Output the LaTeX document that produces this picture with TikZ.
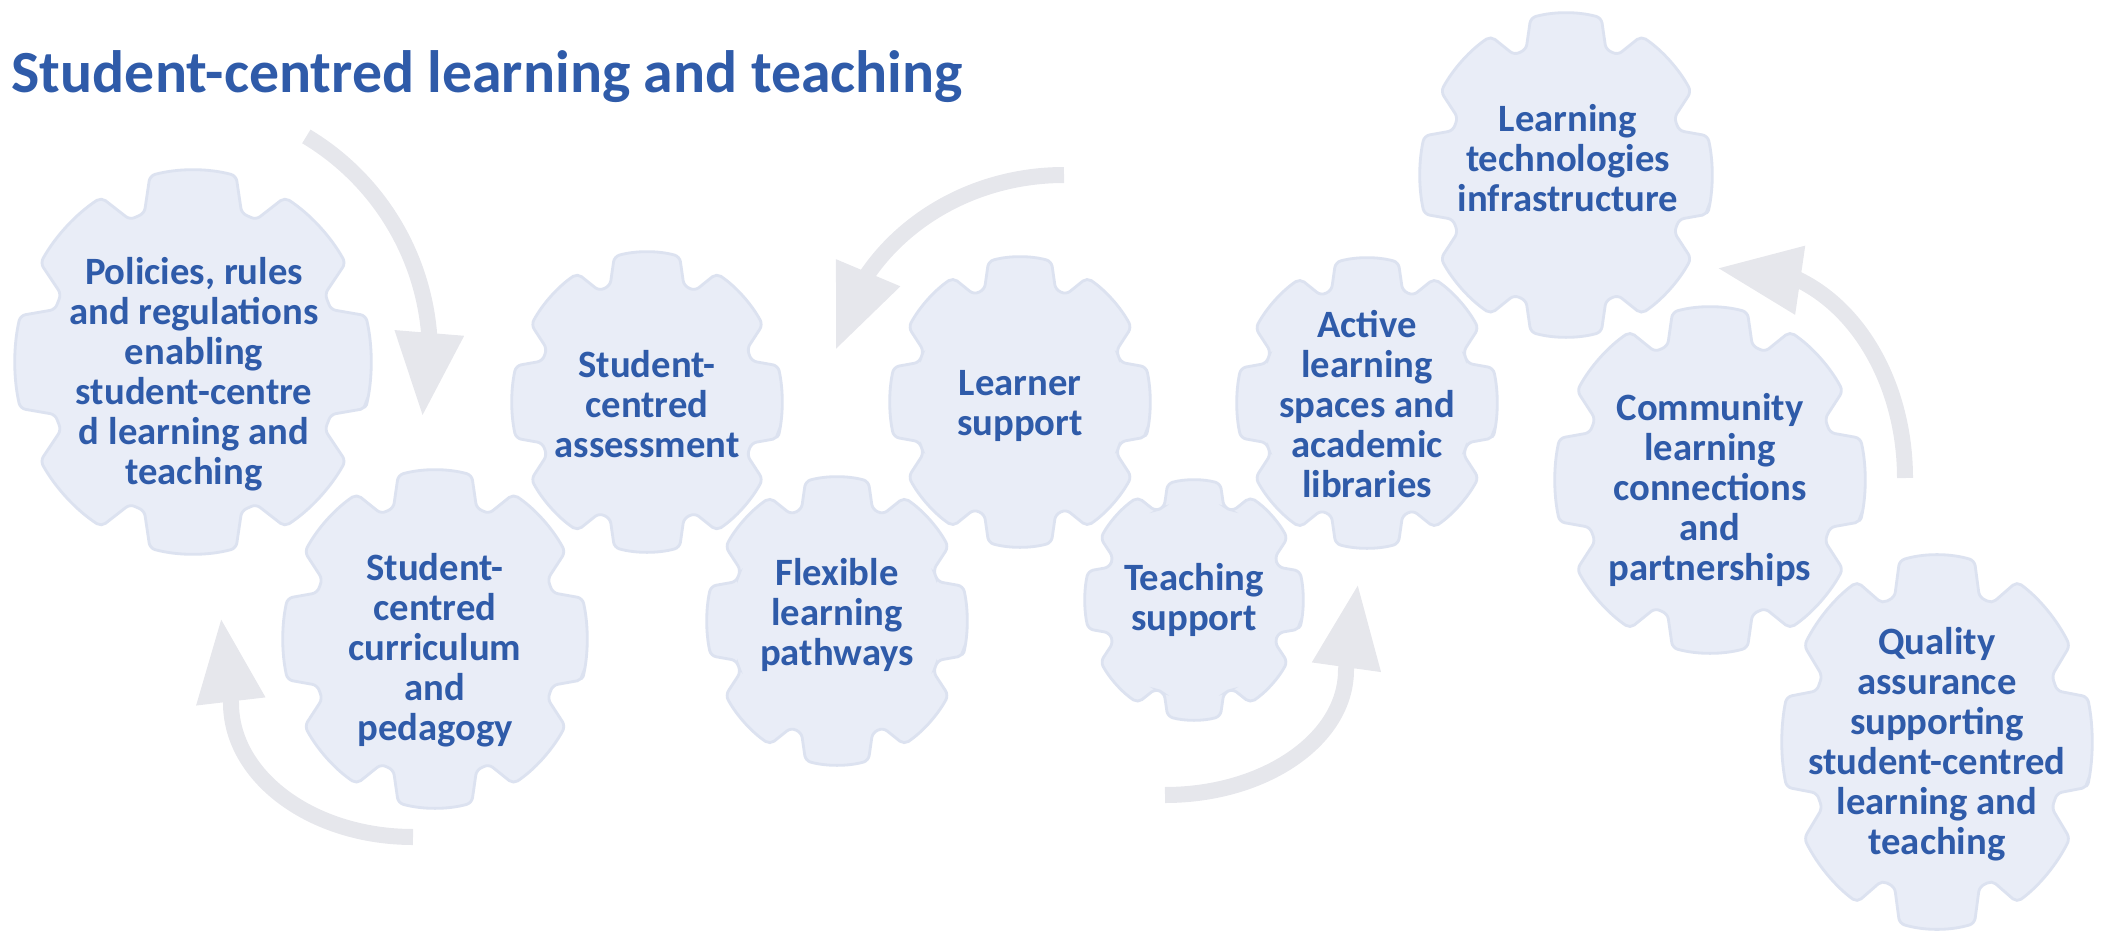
\documentclass[tikz,border=0pt]{standalone}
\usepackage{fontspec}
\setmainfont{Carlito}
\usepackage{tikz}
\usetikzlibrary{arrows.meta, bending}
\definecolor{gearblue}{HTML}{2F5BA9}
\definecolor{gearfill}{HTML}{E9EDF7}
\definecolor{gearline}{HTML}{DCE2F0}
\definecolor{arrowgrey}{HTML}{E6E7EC}

% one gear, centre (#1,#2), radii #3 and #4
\newcommand{\drawgear}[4]{%
  \begin{scope}[shift={(#1,#2)}, xscale=#3, yscale=#4]
    \draw[gear] (-14:1) \foreach \a in {0,45,...,315}{
      arc[start angle=\a-14, end angle=\a+14, radius=1]
      -- (\a+19.5:0.82) arc[start angle=\a+19.5, end angle=\a+25.5, radius=0.82]
      -- (\a+31:1)} -- cycle;
  \end{scope}}

\begin{document}
\begin{tikzpicture}[
    x=0.01cm, y=0.01cm,
    gear/.style={fill=gearfill, draw=gearline, line width=0.8pt, rounded corners=1.5pt,
                 preaction={draw=white, line width=3pt}},
    gtext/.style={text=gearblue, align=center, inner sep=0pt,
                  font=\fontsize{11}{11.4}\selectfont\bfseries},
    title/.style={text=gearblue, inner sep=0pt, font=\fontsize{17}{20}\selectfont\bfseries},
    cyclearrow/.style={draw=arrowgrey, line width=1.6mm,
                       -{Triangle[width=6.5mm, length=8.4mm]}}
]
\useasboundingbox (0,0) rectangle (2111,932);

% Title
\node[title, anchor=base west] (ttl) at (11,840) {Student-centred learning and teaching};

% Arrows
\coordinate (arcA) at (175,577);
\coordinate (arcB) at (413,229);
\coordinate (arcC) at (1064,545);
\coordinate (arcD) at (1165,262);
\coordinate (arcE) at (1740,454);
\draw[cyclearrow] ([shift={(59:255)}]arcA) arc[start angle=59, end angle=-14, radius=255];
\draw[cyclearrow] ([shift={(270:182 and 134)}]arcB) arc[start angle=270, end angle=180, x radius=182, y radius=134] -- ++(-10,85);
\draw[cyclearrow] ([shift={(90:232 and 212)}]arcC) arc[start angle=90, end angle=170, x radius=232, y radius=212];
\draw[cyclearrow] ([shift={(270:181 and 125)}]arcD) arc[start angle=270, end angle=360, x radius=181, y radius=125] -- ++(12,86);
\draw[cyclearrow] ([shift={(0:165 and 212)}]arcE) arc[start angle=0, end angle=98, x radius=165, y radius=212];

% Gears
\drawgear{193}{570}{178}{192}
\drawgear{647}{530}{135}{150}
\drawgear{435}{293}{152}{169}
\drawgear{1020}{530}{130}{145}
\drawgear{837}{311}{130}{144}
\drawgear{1367}{529}{130}{145}
\drawgear{1194}{332}{109}{120}
\drawgear{1566}{757}{146}{162}
\drawgear{1710}{452}{155}{173}
\drawgear{1937}{190}{155}{187}

% Labels
\node[gtext] (pol) at (194,558) {Policies, rules\\and regulations\\enabling\\student-centre\\d learning and\\teaching};
\node[gtext] (ass) at (647,528) {Student-\\centred\\assessment};
\node[gtext] (cur) at (435,282) {Student-\\centred\\curriculum\\and\\pedagogy};
\node[gtext] (lrn) at (1020,526) {Learner\\support};
\node[gtext] (flx) at (837,317) {Flexible\\learning\\pathways};
\node[gtext] (act) at (1367,528) {Active\\learning\\spaces and\\academic\\libraries};
\node[gtext] (tch) at (1194,332) {Teaching\\support};
\node[gtext] (tech) at (1568,774) {Learning\\technologies\\infrastructure};
\node[gtext] (com) at (1710,442) {Community\\learning\\connections\\and\\partnerships};
\node[gtext] (qa) at (1937,188) {Quality\\assurance\\supporting\\student-centred\\learning and\\teaching};

\end{tikzpicture}
\end{document}
